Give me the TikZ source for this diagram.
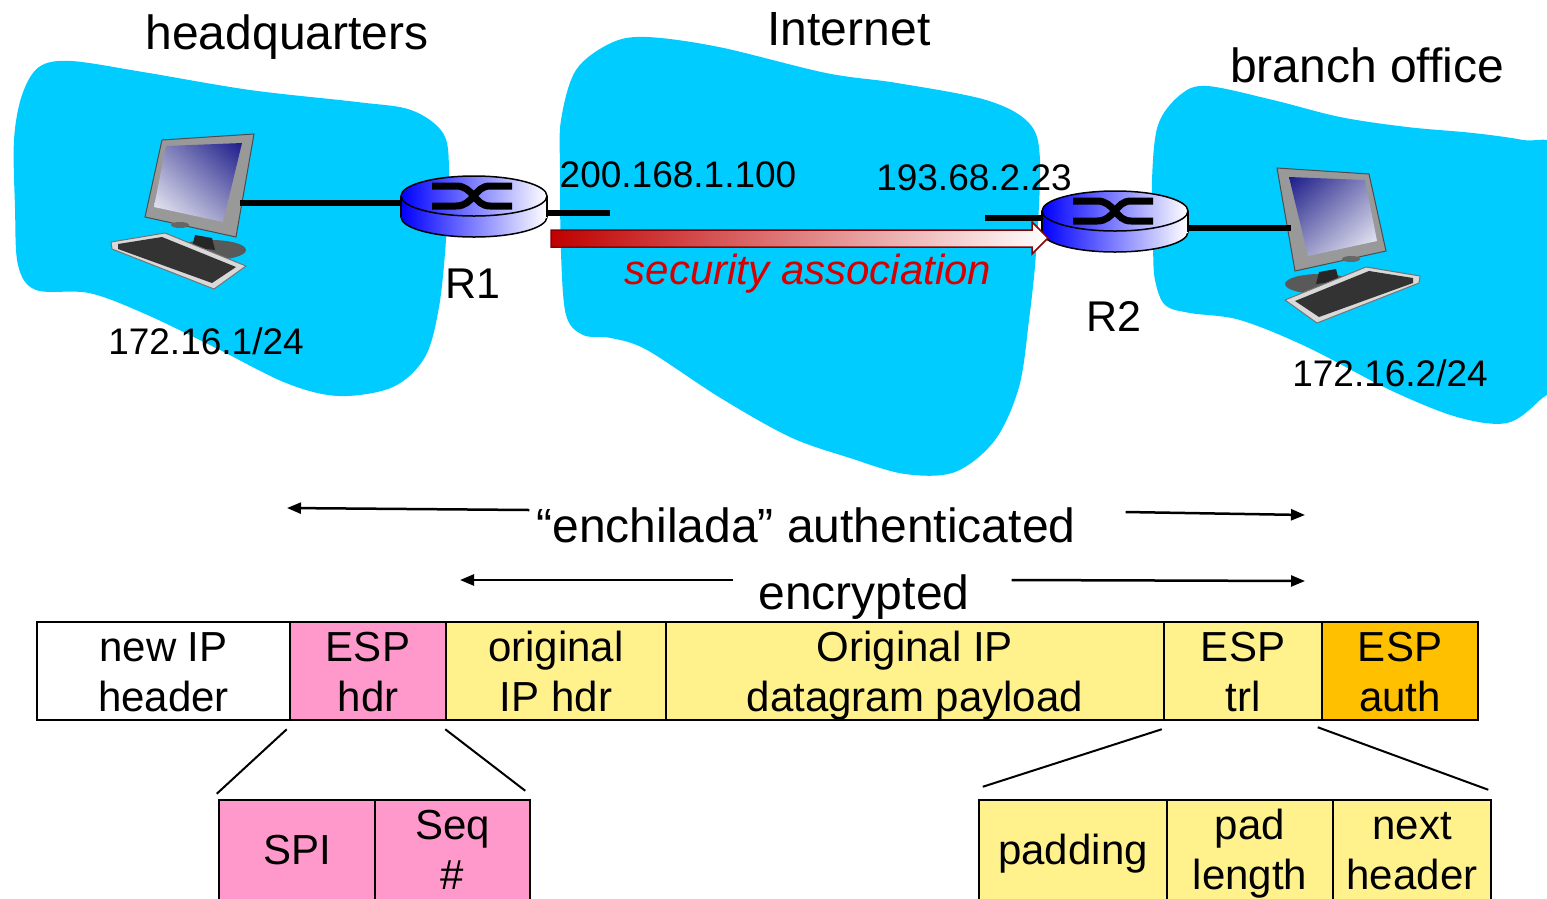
\documentclass[tikz,border=0pt]{standalone}
\usepackage{fontspec}
\setmainfont{Liberation Sans}
\usetikzlibrary{calc,arrows.meta,shadings}
\definecolor{cloudblue}{RGB}{0,204,255}
\definecolor{hdrpink}{RGB}{255,153,204}
\definecolor{fieldyellow}{RGB}{255,242,140}
\definecolor{authorange}{RGB}{255,192,0}
\definecolor{sared}{RGB}{214,0,0}
\definecolor{sadark}{RGB}{139,0,0}
\definecolor{sabody}{RGB}{192,0,0}
\definecolor{scrdark}{RGB}{28,28,138}
\definecolor{scrmid}{RGB}{140,140,192}
\definecolor{scrlight}{RGB}{246,246,252}
\tikzset{
  netcloud/.style={fill=cloudblue},
  link/.style={line width=5.5pt},
  routershade/.style={left color=blue, right color=white},
  screenA/.style={upper right=scrdark, upper left=scrmid, lower right=scrmid, lower left=scrlight},
  screenB/.style={upper left=scrdark, upper right=scrmid, lower left=scrmid, lower right=scrlight},
  pcframe/.style={fill=black!40, draw=black!70, line width=1pt},
  kbd/.style={fill=black!15, draw=black!55, line width=1pt},
  title/.style={font=\fontsize{48}{56}\selectfont, inner sep=0pt},
  addr/.style={font=\fontsize{37}{44}\selectfont, inner sep=0pt},
  rname/.style={font=\fontsize{43}{50}\selectfont, inner sep=0pt},
  satext/.style={font=\itshape\fontsize{42}{50}\selectfont, text=sared, inner sep=0pt},
  field/.style={draw, line width=2.5pt, minimum height=98pt, inner sep=0pt, align=center, font=\fontsize{42}{50}\selectfont},
  subfield/.style={field, minimum height=104pt},
  spanarrow/.style={line width=2.5pt, -{Triangle[length=14pt,width=11pt]}},
  fan/.style={line width=2pt}
}
% struts for the lines of the fields
\def\fh{\rule[-9pt]{0pt}{48pt}}
\def\sh{\rule[-13pt]{0pt}{50pt}}
% router: centre of top face, name
\def\router(#1,#2)#3{%
  \shade[routershade, draw=black, line width=1.5pt] (#1,#2+21) ellipse [x radius=73, y radius=20];
  \shade[routershade] (#1-73,#2) rectangle (#1+73,#2+21);
  \draw[line width=1.5pt] (#1-73,#2) -- (#1-73,#2+21) (#1+73,#2) -- (#1+73,#2+21);
  \shade[routershade, draw=black, line width=1.5pt] (#1,#2) ellipse [x radius=73, y radius=20];
  \draw[line width=7pt] (#1-42,#2-10) -- (#1-18,#2-10) .. controls (#1,#2-10) and (#1,#2+10) .. (#1+16,#2+10) -- (#1+38,#2+10);
  \draw[line width=7pt] (#1-42,#2+10) -- (#1-18,#2+10) .. controls (#1,#2+10) and (#1,#2-10) .. (#1+16,#2-10) -- (#1+38,#2-10);
  \coordinate (#3-w) at (#1-73,#2+7);
  \coordinate (#3-e) at (#1+73,#2+17);
}
% computer: origin, mirror, screen shading, name of its port
\def\pc(#1,#2)#3#4#5{%
  \begin{scope}[shift={(#1,#2)}, xscale=#3]
    \fill[black!65] (29,40) ellipse [x radius=35, y radius=10];
    \fill[black!85] (13,25) -- (30,28) -- (33,40) -- (10,37) -- cycle;
    \filldraw[pcframe] (-20,-70) -- (72,-76) -- (54,27) -- (-37,7) -- cycle;
    \shade[#4] (-16,-64) -- (60,-67) -- (41,12) -- (-28,-3) -- cycle;
    \fill[black!60] (-2,15) ellipse [x radius=9, y radius=3];
    \filldraw[kbd] (-71,32) -- (-17,23) -- (64,56) -- (32,79) -- (-70,39) -- cycle;
    \fill[black!80] (-64,34) -- (-20,27) -- (54,57) -- (30,73) -- (-64,39) -- cycle;
    \coordinate (#5) at (58,-7);
  \end{scope}}

\begin{document}
\begin{tikzpicture}[x=1pt, y=-1pt]
  \useasboundingbox (0,0) rectangle (1547,898);
  \clip (0,0) rectangle (1547,898);
  %%%%% networks
  \fill[netcloud] plot[smooth cycle, tension=0.55] coordinates {(14,140) (22,95) (39,67) (71,61) (143,72) (250,90) (357,102) (411,110) (443,133) (449,170) (446,240) (439,307) (425,357) (393,387) (339,396) (286,383) (214,347) (143,313) (89,293) (36,290) (18,265) (15,207)};
  \fill[netcloud] plot[smooth cycle, tension=0.55] coordinates {(561,120) (576,70) (611,43) (647,37) (719,47) (826,73) (897,83) (986,100) (1029,123) (1040,160) (1036,253) (1029,320) (1019,387) (995,440) (955,472) (905,474) (850,458) (790,437) (719,397) (647,350) (611,338) (583,335) (566,315) (561,253) (560,170)};
  \fill[netcloud] plot[smooth cycle, tension=0.55] coordinates {(1152,180) (1158,125) (1180,95) (1207,86) (1273,100) (1340,117) (1407,127) (1473,133) (1523,140) (1560,150) (1580,250) (1565,370) (1540,400) (1507,423) (1457,417) (1390,390) (1307,347) (1240,320) (1190,313) (1165,305) (1155,280) (1153,247)};

  \node[title] (hqtitle) at (287,37) {headquarters};
  \node[title] (nettitle) at (849,29) {Internet};
  \node[title] (brtitle) at (1367,65) {branch office};

  %%%%% hosts and routers
  \pc(182,210){1}{screenA}{hqpc}
  \pc(1349,244){-1}{screenB}{brpc}
  \router(474,196){R1}
  \router(1115,211){R2}

  \draw[link] (hqpc) -- (hqpc -| R1-w);
  \draw[link] (R2-e) -- (R2-e -| brpc);
  \coordinate (stubA) at (610,0);
  \coordinate (stubB) at (985,0);
  \draw[link] (R1-e) -- (R1-e -| stubA);
  \draw[link] (R2-w) -- (R2-w -| stubB);

  \node[addr] (ipA) at (678,175) {200.168.1.100};
  \node[addr] (ipB) at (974,178) {193.68.2.23};
  \node[rname] (r1name) at (473,284) {R1};
  \node[rname] (r2name) at (1114,316) {R2};
  \node[addr] (hqnet) at (206,341) {172.16.1/24};
  \node[addr] (brnet) at (1390,373) {172.16.2/24};

  % security association
  \shade[left color=sabody, right color=white, draw=sadark, line width=1.5pt] (551,230) -- (1032,230) -- (1032,222) -- (1048,238) -- (1032,254) -- (1032,247) -- (551,247) -- cycle;
  \node[satext] (sa) at (808,274) {security association};

  %%%%% datagram
  \node[title] (authtxt) at (806,525) {“enchilada” authenticated};
  \node[title] (enctxt) at (864,597) {encrypted};
  \coordinate (authL) at (287,508);
  \coordinate (authR) at (1305,515);
  \coordinate (encL) at (460,580);
  \coordinate (encR) at (1305,581);
  \draw[spanarrow] ($(authtxt.west)+(-7,-15)$) -- (authL);
  \draw[spanarrow] ($(authtxt.east)+(50,-13)$) -- (authR);
  \draw[spanarrow] ($(enctxt.west)+(-25,-17)$) -- (encL);
  \draw[spanarrow] ($(enctxt.east)+(42,-17)$) -- (encR);

  \node[field, fill=white, minimum width=253pt] (newip) at (163.5,671) {\fh new IP\\\fh header};
  \node[field, fill=hdrpink, minimum width=156pt] (esphdr) at (368,671) {\fh ESP\\\fh hdr};
  \node[field, fill=fieldyellow, minimum width=220pt] (orighdr) at (556,671) {\fh original\\\fh IP hdr};
  \node[field, fill=fieldyellow, minimum width=498pt] (payload) at (915,671) {\fh Original IP\\\fh datagram payload};
  \node[field, fill=fieldyellow, minimum width=158pt] (esptrl) at (1243,671) {\fh ESP\\\fh trl};
  \node[field, fill=authorange, minimum width=156pt] (espauth) at (1400,671) {\fh ESP\\\fh auth};

  \node[subfield, fill=hdrpink, minimum width=156pt] (spi) at (297,852) {\sh SPI};
  \node[subfield, fill=hdrpink, minimum width=155pt] (seq) at (452.5,852) {\sh Seq\\\sh \#};
  \node[subfield, fill=fieldyellow, minimum width=188pt] (padding) at (1073,852) {\sh padding};
  \node[subfield, fill=fieldyellow, minimum width=166pt] (padlen) at (1250,852) {\sh pad\\\sh length};
  \node[subfield, fill=fieldyellow, minimum width=158pt] (nexthdr) at (1412,852) {\sh next\\\sh header};

  \draw[fan] ($(esphdr.south west)+(-2,8)$) -- ($(spi.north west)+(-1,-5)$);
  \draw[fan] ($(esphdr.south east)+(-2,8)$) -- ($(seq.north east)+(-6,-8)$);
  \draw[fan] ($(esptrl.south west)+(-1,8)$) -- ($(padding.north west)+(5,-12)$);
  \draw[fan] ($(espauth.south west)+(-3,6)$) -- ($(nexthdr.north east)+(-4,-9)$);
\end{tikzpicture}
\end{document}
